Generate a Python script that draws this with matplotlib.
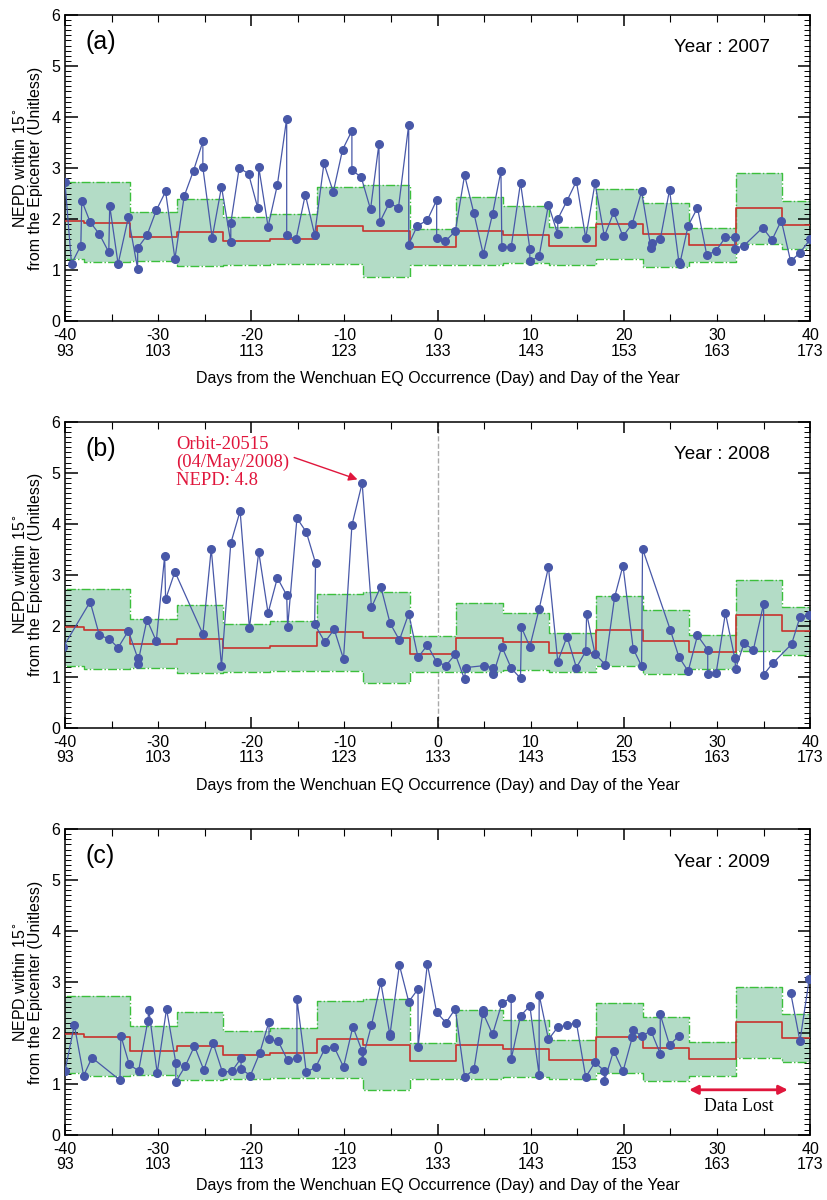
import matplotlib
matplotlib.use("Agg")
import matplotlib.pyplot as plt
from matplotlib.ticker import MultipleLocator

plt.rcParams['font.family'] = ['Liberation Sans', 'DejaVu Sans']

# background bounds, 5-day windows (start day of each window)
seg_start = [-43, -38, -33, -28, -23, -18, -13, -8, -3, 2, 7, 12, 17, 22, 27, 32, 37]
seg_upper = [2.72, 2.72, 2.13, 2.40, 2.04, 2.10, 2.62, 2.66, 1.80, 2.44, 2.25, 1.85, 2.59, 2.31, 1.82, 2.90, 2.36]
seg_median = [1.97, 1.92, 1.64, 1.74, 1.57, 1.60, 1.87, 1.76, 1.45, 1.77, 1.69, 1.47, 1.91, 1.70, 1.49, 2.21, 1.89]
seg_lower = [1.21, 1.15, 1.18, 1.07, 1.10, 1.11, 1.12, 0.87, 1.10, 1.10, 1.13, 1.10, 1.22, 1.06, 1.16, 1.51, 1.42]
seg_end = 42

# (a) 2007
days_a = [-40.0, -39.3, -38.3, -38.2, -37.3, -36.3, -35.3, -35.2, -34.3, -33.2, -32.2, -32.2,
          -31.2, -30.2, -29.2, -28.2, -27.2, -26.2, -25.2, -25.2, -24.2, -23.2, -22.2, -22.2,
          -21.3, -20.3, -19.3, -19.2, -18.2, -17.2, -16.2, -16.2, -15.2, -14.2, -13.2, -12.2,
          -11.2, -10.2, -9.2, -9.2, -8.2, -7.2, -6.3, -6.2, -5.2, -4.2, -3.1, -3.1, -2.2,
          -1.1, -0.1, -0.1, 0.8, 1.9, 2.9, 3.9, 4.9, 5.9, 6.8, 6.9, 7.9, 8.9, 9.9, 9.9, 10.9,
          11.9, 12.9, 12.9, 13.9, 14.9, 15.9, 16.9, 17.9, 18.9, 19.9, 20.9, 21.9, 22.9, 23.0,
          23.9, 24.9, 25.9, 26.0, 26.9, 27.9, 28.9, 29.9, 30.9, 31.9, 31.9, 32.9, 34.9, 35.9,
          36.9, 37.9, 38.9, 40.0]
nepd_a = [2.72, 1.12, 1.48, 2.36, 1.94, 1.70, 1.35, 2.26, 1.12, 2.03, 1.02, 1.43,
          1.68, 2.17, 2.54, 1.22, 2.45, 2.95, 3.52, 3.01, 1.63, 2.63, 1.54, 1.92,
          3.00, 2.89, 2.21, 3.02, 1.85, 2.67, 3.97, 1.68, 1.60, 2.48, 1.69, 3.09,
          2.53, 3.36, 3.73, 2.96, 2.82, 2.19, 3.47, 1.94, 2.31, 2.22, 3.85, 1.50, 1.86,
          1.98, 2.37, 1.62, 1.56, 1.76, 2.86, 2.11, 1.31, 2.10, 2.94, 1.45, 1.45, 2.71, 1.42, 1.17, 1.27,
          2.28, 1.70, 2.00, 2.36, 2.74, 1.63, 2.70, 1.66, 2.13, 1.66, 1.91, 2.54, 1.43, 1.53,
          1.60, 2.57, 1.16, 1.12, 1.87, 2.22, 1.29, 1.38, 1.64, 1.64, 1.42, 1.48, 1.83, 1.59,
          1.97, 1.17, 1.34, 1.60]

# (b) 2008
days_b = [-40.2, -37.3, -36.3, -35.3, -34.3, -33.2, -32.2, -32.2, -31.2, -30.2, -29.3, -29.2,
          -28.2, -25.2, -24.3, -23.2, -22.2, -21.2, -20.2, -19.2, -18.2, -17.2, -16.2, -16.1,
          -15.1, -14.1, -13.1, -13.2, -12.1, -11.1, -10.1, -9.2, -8.1, -7.1, -6.1, -5.1, -4.1,
          -3.1, -2.1, -1.1, -0.1, 0.9, 1.9, 2.9, 3.0, 5.0, 5.9, 6.0, 6.9, 7.9, 8.9, 9.0, 9.9,
          10.9, 11.9, 12.9, 13.9, 14.9, 15.9, 16.0, 16.9, 18.0, 19.0, 19.9, 21.0, 21.9, 22.0,
          25.0, 25.9, 26.9, 27.9, 29.0, 29.0, 29.9, 30.9, 31.9, 32.0, 32.9, 33.9, 35.0, 35.0,
          36.0, 38.0, 38.9, 39.9]
nepd_b = [1.58, 2.47, 1.81, 1.75, 1.57, 1.90, 1.37, 1.25, 2.12, 1.70, 3.37, 2.52,
          3.06, 1.84, 3.51, 1.21, 3.62, 4.25, 1.95, 3.45, 2.25, 2.94, 2.60, 1.97,
          4.11, 3.84, 3.23, 2.03, 1.68, 1.93, 1.35, 3.97, 4.80, 2.36, 2.77, 2.05, 1.72,
          2.24, 1.38, 1.62, 1.29, 1.22, 1.44, 0.95, 1.18, 1.22, 1.18, 1.06, 1.59, 1.17, 0.97, 1.97, 1.59,
          2.33, 3.15, 1.30, 1.79, 1.18, 1.50, 2.24, 1.45, 1.24, 2.56, 3.18, 1.55, 1.21, 3.51,
          1.91, 1.39, 1.11, 1.81, 1.53, 1.05, 1.07, 2.25, 1.37, 1.16, 1.66, 1.53, 2.43, 1.04,
          1.27, 1.64, 2.17, 2.22]

# (c) 2009, no data between day 26 and 38
days_c = [-40.0, -39.0, -38.0, -37.1, -34.1, -34.0, -33.1, -32.1, -31.1, -31.0, -30.1, -29.1,
          -28.1, -28.1, -27.1, -26.1, -25.1, -24.1, -23.1, -22.1, -21.1, -21.1, -20.1, -19.1,
          -18.1, -18.1, -17.1, -16.1, -15.1, -15.1, -14.1, -13.1, -12.1, -11.1, -10.1, -9.1,
          -8.1, -8.1, -7.1, -6.1, -5.1, -5.1, -4.1, -3.1, -2.1, -2.1, -1.1, -0.1, 0.9, 1.9,
          2.9, 3.9, 4.9, 4.9, 5.9, 6.9, 7.9, 7.9, 8.9, 9.9, 10.9, 10.9, 11.9, 12.9, 13.9, 14.9,
          15.9, 16.9, 17.9, 17.9, 18.9, 19.9, 20.9, 21.0, 21.9, 22.9, 23.9, 23.9, 24.9, 25.9,
          37.9, 38.9, 39.9]
nepd_c = [1.25, 2.15, 1.16, 1.51, 1.07, 1.94, 1.38, 1.25, 2.24, 2.45, 1.21, 2.47,
          1.41, 1.04, 1.34, 1.74, 1.27, 1.80, 1.23, 1.24, 1.50, 1.29, 1.16, 1.60,
          2.22, 1.87, 1.83, 1.46, 1.50, 2.66, 1.23, 1.32, 1.69, 1.72, 1.33, 2.12,
          1.64, 1.45, 2.15, 2.99, 1.94, 1.98, 3.33, 2.61, 2.86, 1.72, 3.35, 2.40, 2.20, 2.47,
          1.13, 1.28, 2.44, 2.38, 1.97, 2.58, 2.69, 1.48, 2.33, 2.53, 1.17, 2.75, 1.87, 2.11, 2.15, 2.20,
          1.13, 1.42, 1.25, 1.05, 1.65, 1.24, 1.91, 2.06, 1.93, 2.04, 1.59, 2.36, 1.76, 1.94,
          2.79, 1.84, 3.06]

xticks = [-40, -30, -20, -10, 0, 10, 20, 30, 40]
long_ticks = [-40, -20, 0, 20, 40]
short_ticks = [-35, -30, -25, -15, -10, -5, 5, 10, 15, 25, 30, 35]

FILL = '#b3dcc6'
EDGE = '#3cbf3c'
MED = '#c8322d'
BLUE = '#4858a8'
RED = '#e0163c'
SERIF = ['Liberation Serif', 'DejaVu Serif']


def tick_label(d):
    if d in xticks:
        return "%d\n%d" % (d, d + 133)
    return ""


def draw_panel(ax, days, vals, tag, year, gap=None, xpad=9):
    xs = seg_start + [seg_end]
    up = seg_upper + [seg_upper[-1]]
    md = seg_median + [seg_median[-1]]
    lo = seg_lower + [seg_lower[-1]]
    for i in range(len(seg_start)):
        ax.fill_between([xs[i], xs[i + 1]], [lo[i], lo[i]], [up[i], up[i]],
                        color=FILL, lw=0, zorder=1)
    ax.step(xs, up, where='post', color=EDGE, ls='-.', lw=1.0, zorder=2)
    ax.step(xs, lo, where='post', color=EDGE, ls='-.', lw=1.0, zorder=2)
    ax.step(xs, md, where='post', color=MED, lw=1.2, zorder=3)

    if gap is None:
        ax.plot(days, vals, '-o', color=BLUE, lw=0.9, ms=5.5, zorder=4)
    else:
        d1 = [d for d in days if d < gap]
        v1 = [v for d, v in zip(days, vals) if d < gap]
        d2 = [d for d in days if d >= gap]
        v2 = [v for d, v in zip(days, vals) if d >= gap]
        ax.plot(d1, v1, '-o', color=BLUE, lw=0.9, ms=5.5, zorder=4)
        ax.plot(d2, v2, '-o', color=BLUE, lw=0.9, ms=5.5, zorder=4)

    ax.set_xlim(-40, 40)
    ax.set_ylim(0, 6)
    ax.set_xticks(long_ticks, [tick_label(d) for d in long_ticks])
    ax.set_xticks(short_ticks, [tick_label(d) for d in short_ticks], minor=True)
    for lab in ax.get_xticklabels(which='both'):
        lab.set_linespacing(1.05)
    ax.yaxis.set_major_locator(MultipleLocator(1))
    ax.yaxis.set_minor_locator(MultipleLocator(0.1))
    ax.tick_params(axis='both', which='both', direction='in', top=True, right=True)
    ax.tick_params(axis='x', which='major', length=8, width=1.1, labelsize=11.5, pad=5)
    ax.tick_params(axis='x', which='minor', length=5, width=0.8, labelsize=11.5, pad=5)
    ax.tick_params(axis='y', which='major', length=9, width=1.1, labelsize=11.5)
    ax.tick_params(axis='y', which='minor', length=4.5, width=0.7)
    for s in ax.spines.values():
        s.set_linewidth(1.1)
    ax.set_xlabel("Days from the Wenchuan EQ Occurrence (Day) and Day of the Year",
                  fontsize=11.5, labelpad=xpad)
    ax.set_ylabel("NEPD within 15$^{\\circ}$\nfrom the Epicenter (Unitless)",
                  fontsize=11.5, labelpad=6, linespacing=1.0)
    ax.text(0.028, 0.95, tag, transform=ax.transAxes, fontsize=18, va='top', ha='left')
    ax.text(0.946, 0.92, "Year : %d" % year, transform=ax.transAxes, fontsize=13.6,
            va='top', ha='right')


fig = plt.figure(figsize=(8.28, 12), dpi=100)
ax_a = fig.add_axes([0.0785, 0.7325, 0.9, 0.255])
ax_b = fig.add_axes([0.0785, 0.3935, 0.9, 0.255])
ax_c = fig.add_axes([0.0785, 0.0545, 0.9, 0.2545])

draw_panel(ax_a, days_a, nepd_a, "(a)", 2007)
draw_panel(ax_b, days_b, nepd_b, "(b)", 2008)
draw_panel(ax_c, days_c, nepd_c, "(c)", 2009, gap=30, xpad=4)

ax_b.axvline(0, color='#aaaaaa', ls='--', lw=1.0, zorder=0.5)
ax_b.text(-28.1, 5.2, "Orbit-20515\n(04/May/2008)\nNEPD: 4.8", fontsize=13.4, color=RED,
          family=SERIF, va='center', ha='left', linespacing=1.08, zorder=6)
ax_b.annotate("", xy=(-8.6, 4.87), xytext=(-15.4, 5.30),
              arrowprops=dict(arrowstyle='-|>', color=RED, lw=1.0,
                              mutation_scale=13, shrinkA=0, shrinkB=0),
              zorder=6)
ax_c.annotate("", xy=(27.0, 0.88), xytext=(37.6, 0.88),
              arrowprops=dict(arrowstyle='<|-|>', color=RED, lw=2.0,
                              mutation_scale=13, shrinkA=0, shrinkB=0))
ax_c.text(32.3, 0.55, "Data Lost", fontsize=12.8, ha='center', va='center', family=SERIF)

fig.savefig("out.png", dpi=100)
